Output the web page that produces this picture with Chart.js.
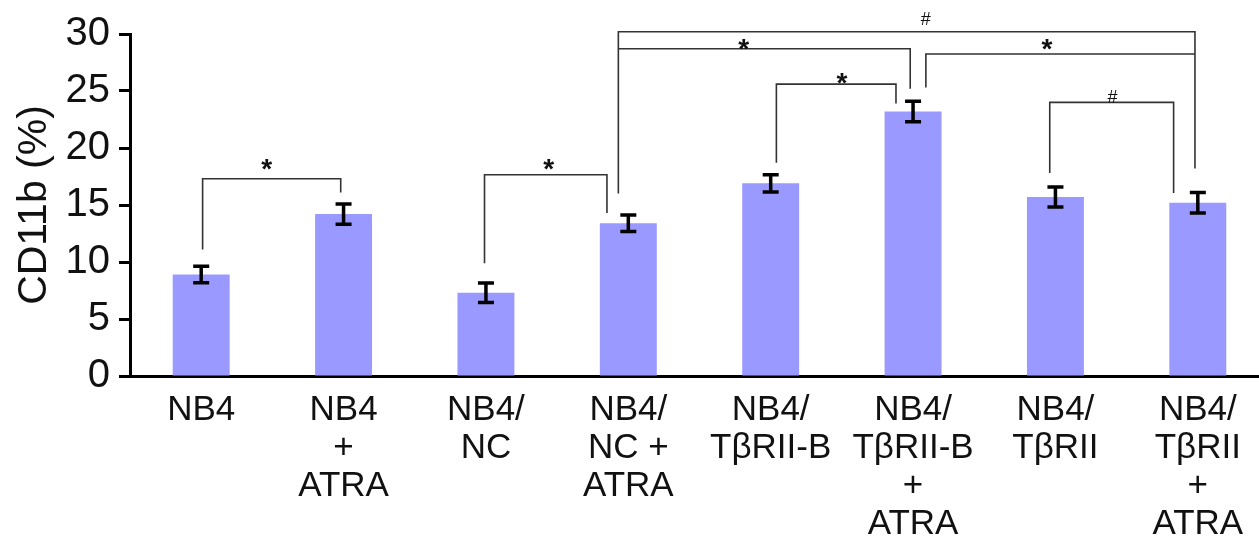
<!DOCTYPE html>
<html>
<head>
<meta charset="utf-8">
<script src="https://cdn.jsdelivr.net/npm/chart.js@4.4.1/dist/chart.umd.min.js"></script>
<style>
  html, body { margin: 0; padding: 0; background: #fff; overflow: hidden; }
</style>
</head>
<body>
<canvas id="cd11b-chart" width="1270" height="544"></canvas>
<script>
// groups, one label line per array item
const groups = [
  ['NB4'],
  ['NB4', '+', 'ATRA'],
  ['NB4/', 'NC'],
  ['NB4/', 'NC +', 'ATRA'],
  ['NB4/', 'TβRII-B'],
  ['NB4/', 'TβRII-B', '+', 'ATRA'],
  ['NB4/', 'TβRII'],
  ['NB4/', 'TβRII', '+', 'ATRA']
]
const cd11b = [8.9, 14.2, 7.3, 13.4, 16.9, 23.2, 15.7, 15.2]
const sem = [0.73, 0.88, 0.85, 0.73, 0.76, 0.9, 0.88, 0.9]
const yTicks = [0, 5, 10, 15, 20, 25, 30]

// significance brackets: a/b = category position of the legs, top = bar height level,
// aEnd/bEnd = where each leg stops, mark sits at (mx, my)
const brackets = [
  { a: 0.01, b: 0.98, top: 17.3, aEnd: 11.1, bEnd: 16.1, mark: '*', mx: 0.46, my: 18.8 },
  { a: 1.99, b: 2.85, top: 17.66, aEnd: 9.9, bEnd: 14.3, mark: '*', mx: 2.44, my: 18.8 },
  { a: 2.93, b: 6.98, top: 30.2, aEnd: 16.0, bEnd: 18.2, mark: '#', mx: 5.09, my: 31.3 },
  { a: 2.93, b: 4.98, top: 28.7, aEnd: 28.7, bEnd: 25.2, mark: '*', mx: 3.81, my: 29.3 },
  { a: 4.04, b: 4.88, top: 25.6, aEnd: 18.7, bEnd: 23.9, mark: '*', mx: 4.5, my: 26.3 },
  { a: 5.09, b: 6.98, top: 28.25, aEnd: 25.3, bEnd: 28.25, mark: '*', mx: 5.94, my: 29.3 },
  { a: 5.96, b: 6.83, top: 24.0, aEnd: 17.8, bEnd: 16.05, mark: '#', mx: 6.4, my: 24.5 }
]

const FONT = "'Liberation Sans', Arial, sans-serif"

const overlay = {
  id: 'overlay',
  afterDatasetsDraw(chart) {
    const { ctx } = chart
    const { x, y } = chart.scales
    const step = x.getPixelForValue(1) - x.getPixelForValue(0)
    const px = pos => x.getPixelForValue(0) + pos * step
    ctx.save()

    // error bars
    ctx.strokeStyle = '#000'
    ctx.lineWidth = 3.5
    cd11b.forEach((v, i) => {
      const cx = x.getPixelForValue(i)
      const hi = y.getPixelForValue(v + sem[i])
      const lo = y.getPixelForValue(v - sem[i])
      ctx.beginPath()
      ctx.moveTo(cx, hi); ctx.lineTo(cx, lo)
      ctx.moveTo(cx - 8, hi); ctx.lineTo(cx + 8, hi)
      ctx.moveTo(cx - 8, lo); ctx.lineTo(cx + 8, lo)
      ctx.stroke()
    })

    // brackets
    ctx.strokeStyle = '#333'
    ctx.lineWidth = 1.6
    ctx.fillStyle = '#111'
    ctx.textAlign = 'center'
    ctx.textBaseline = 'alphabetic'
    brackets.forEach(b => {
      const xa = px(b.a), xb = px(b.b), yt = y.getPixelForValue(b.top)
      ctx.beginPath()
      ctx.moveTo(xa, y.getPixelForValue(b.aEnd))
      ctx.lineTo(xa, yt)
      ctx.lineTo(xb, yt)
      ctx.lineTo(xb, y.getPixelForValue(b.bEnd))
      ctx.stroke()
      const my = y.getPixelForValue(b.my)
      if (b.mark === '*') {
        ctx.font = 'bold 28px ' + FONT
        ctx.fillText('*', px(b.mx), my + 0.58 * 28)
      } else {
        ctx.font = '18px ' + FONT
        ctx.fillText('#', px(b.mx), my + 0.35 * 18)
      }
    })
    ctx.restore()
  }
}

new Chart(document.querySelector('#cd11b-chart'), {
  type: 'bar',
  data: {
    labels: groups,
    datasets: [{
      data: cd11b,
      backgroundColor: 'rgb(153, 153, 255)',
      borderWidth: 0,
      barPercentage: 0.4,
      categoryPercentage: 1
    }]
  },
  options: {
    responsive: false,
    animation: false,
    events: [],
    layout: { padding: { top: 34, right: 1, left: 0, bottom: 0 } },
    plugins: { legend: { display: false }, tooltip: { enabled: false } },
    scales: {
      x: {
        grid: { display: false },
        border: { display: true, color: '#000', width: 3 },
        ticks: {
          color: '#111',
          padding: 7,
          maxRotation: 0,
          autoSkip: false,
          font: { family: FONT, size: 35, lineHeight: 1.086 }
        },
        afterFit: scale => { scale.height = 168 }
      },
      y: {
        min: 0,
        max: 30,
        afterBuildTicks: scale => { scale.ticks = yTicks.map(v => ({ value: v })) },
        grid: {
          display: true,
          drawOnChartArea: false,
          drawTicks: true,
          tickLength: 11,
          tickWidth: 3,
          tickColor: '#000'
        },
        border: { display: true, color: '#000', width: 3 },
        ticks: {
          color: '#111',
          padding: 9,
          font: { family: FONT, size: 40 }
        },
        title: {
          display: true,
          text: 'CD11b (%)',
          color: '#111',
          padding: { top: 10, bottom: 0 },
          font: { family: FONT, size: 41, lineHeight: 1.2 }
        },
        afterFit: scale => { scale.width = 130 }
      }
    }
  },
  plugins: [overlay]
})
</script>
</body>
</html>
